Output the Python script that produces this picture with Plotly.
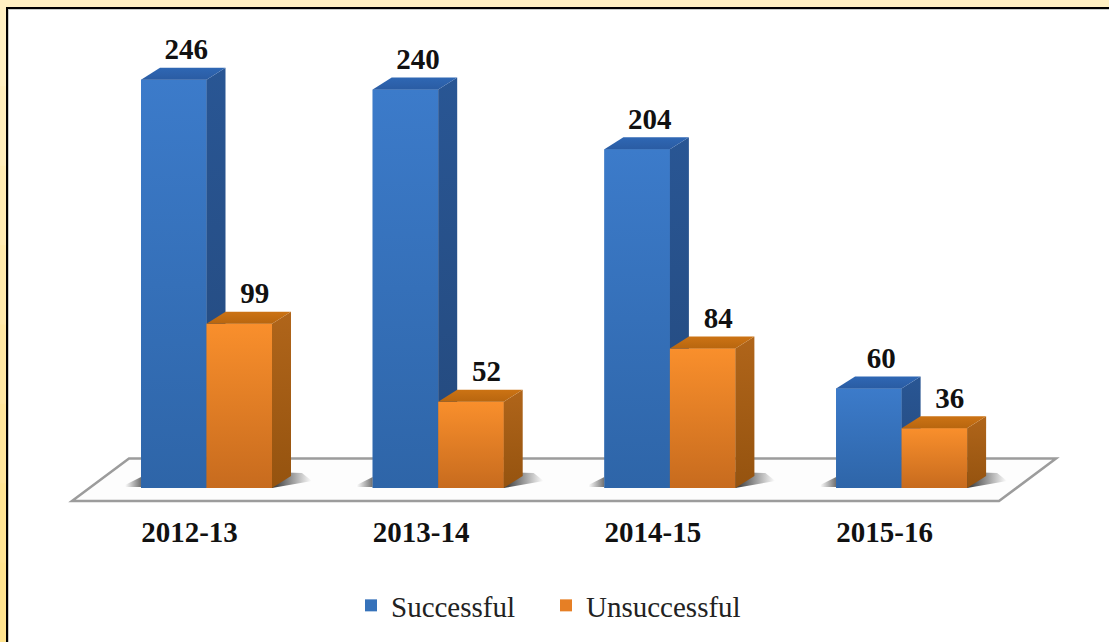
import plotly.graph_objects as go

categories = ["2012-13", "2013-14", "2014-15", "2015-16"]
successful = [246, 240, 204, 60]
unsuccessful = [99, 52, 84, 36]

W, H = 1109, 642
PLOT_BOTTOM = 510
PX_PER_CAT = 231.7
PX_PER_VAL = 1.66
X0_PX = 206.5
Y0_PX = 488
BAR_W = 65.5 / PX_PER_CAT
DX = 19 / PX_PER_CAT
DY = 12 / PX_PER_VAL
SERIF = "Liberation Serif"
BLUE = dict(front=("#3C7BCA", "#2E65A8"), side=("#295694", "#24497C"), top=("#2A5CA3", "#2F67B4"), solid="#3672BA")
ORANGE = dict(front=("#F98F2C", "#C76B1E"), side=("#B0651A", "#95530F"), top=("#B8660F", "#CC7314"), solid="#E67F25")


def xd(px):
    return (px - X0_PX) / PX_PER_CAT


def yd(px):
    return (Y0_PX - px) / PX_PER_VAL


def face(fig, xs, ys, colors, kind="vertical"):
    fig.add_trace(go.Scatter(
        x=xs + xs[:1], y=ys + ys[:1], mode="lines", fill="toself", line=dict(width=0),
        fillgradient=dict(type=kind, colorscale=[[0, colors[0]], [1, colors[1]]]),
        hoverinfo="skip", showlegend=False))


fig = go.Figure()

# fronts as real bars (legend carries them)
idx = list(range(len(categories)))
fig.add_trace(go.Bar(name="Successful", x=idx, y=successful, marker=dict(color=BLUE["solid"], line_width=0), hoverinfo="x+y"))
fig.add_trace(go.Bar(name="Unsuccessful", x=idx, y=unsuccessful, marker=dict(color=ORANGE["solid"], line_width=0), hoverinfo="x+y"))

# floor shadows
for i in idx:
    lft = i - BAR_W
    rgt = i + BAR_W
    face(fig, [lft - 16 / PX_PER_CAT, lft, lft, lft - 16 / PX_PER_CAT], [yd(487), yd(487), yd(477), yd(485)],
         ("#FFFFFF", "#707070"), "horizontal")
    face(fig, [rgt, rgt + 40 / PX_PER_CAT, rgt + 30 / PX_PER_CAT, rgt], [yd(488), yd(481), yd(473), yd(472)],
         ("#333333", "#FFFFFF"), "horizontal")


def bar3d(i, value, off, pal):
    l, r = i + off, i + off + BAR_W
    face(fig, [l, r, r, l], [value, value, 0, 0], (pal["front"][1], pal["front"][0]), "vertical")
    face(fig, [r, r + DX, r + DX, r], [0, DY, value + DY, value], (pal["side"][1], pal["side"][0]), "vertical")
    face(fig, [l, r, r + DX, l + DX], [value, value, value + DY, value + DY], pal["top"], "vertical")


for i in idx:
    bar3d(i, successful[i], -BAR_W, BLUE)
for i in idx:
    bar3d(i, unsuccessful[i], 0, ORANGE)

# value labels
for off, vals in ((-BAR_W / 2 + 3 / PX_PER_CAT, successful), (BAR_W / 2 + 6 / PX_PER_CAT, unsuccessful)):
    fig.add_trace(go.Scatter(
        x=[i + off + DX / 2 for i in idx], y=[v + DY + 1 / PX_PER_VAL for v in vals], mode="text",
        text=[str(v) for v in vals], textposition="top center",
        textfont=dict(family=SERIF, size=29, color="#111111", weight="bold"),
        hoverinfo="skip", showlegend=False))

floor_px = [(72, 501), (129, 458.5), (1056, 458.5), (999, 501)]
floor_path = "M " + " L ".join(f"{xd(x)},{yd(y)}" for x, y in floor_px) + " Z"
shapes = [dict(type="path", xref="x", yref="y", path=floor_path, layer="below",
               fillcolor="#FDFDFD", line=dict(color="#9C9C9C", width=2.5))]


def py(px):
    return 1 - px / PLOT_BOTTOM


def frame(x0, x1, y0, y1, color):
    shapes.append(dict(type="rect", xref="paper", yref="paper", x0=x0 / W, x1=x1 / W,
                       y0=py(y1), y1=py(y0), fillcolor=color, line_width=0, layer="above"))


# page frame: pale yellow strip, black rule, thin grey inner rule
frame(0, W, 0, 7, "#FFF0C2")
steps = ["#FFF0C2", "#FFEEBB", "#FFECB3", "#FFEAAB", "#FFE8A3", "#FFE69B", "#FFE593", "#FFE48E"]
for k, c in enumerate(steps):
    frame(0, 6, 7 + k * 635 / 8, 7 + (k + 1) * 635 / 8 + 1, c)
frame(6, W, 7, 9, "#000000")
frame(6, 8, 7, H, "#000000")
frame(8, W, 9, 10, "#C9CDC9")
frame(8, 9, 9, H, "#C9CDC9")

fig.update_layout(
    width=W, height=H, margin=dict(l=0, r=0, t=0, b=H - PLOT_BOTTOM, pad=0),
    paper_bgcolor="white", plot_bgcolor="rgba(0,0,0,0)",
    barmode="group", bargap=1 - 2 * BAR_W, bargroupgap=0,
    shapes=shapes, hovermode="closest",
    legend=dict(orientation="h", x=351 / W, xanchor="left", y=py(580), yanchor="top",
                font=dict(family=SERIF, size=29, color="#222222"),
                bgcolor="rgba(0,0,0,0)", entrywidthmode="pixels", entrywidth=150,
                itemwidth=30, traceorder="normal"),
    xaxis=dict(range=[xd(0), xd(W)], tickmode="array", tickvals=idx, ticktext=categories,
               showgrid=False, zeroline=False, showline=False, ticks="",
               ticklabelshift=-17, ticklabelstandoff=2,
               tickfont=dict(family=SERIF, size=29, color="#111111", weight="bold")),
    yaxis=dict(range=[yd(PLOT_BOTTOM), yd(0)], showgrid=False, zeroline=False, showline=False,
               showticklabels=False, ticks=""),
)

fig.write_html("out.html", post_script="document.body.style.margin='0';",
               config={"displayModeBar": False})
